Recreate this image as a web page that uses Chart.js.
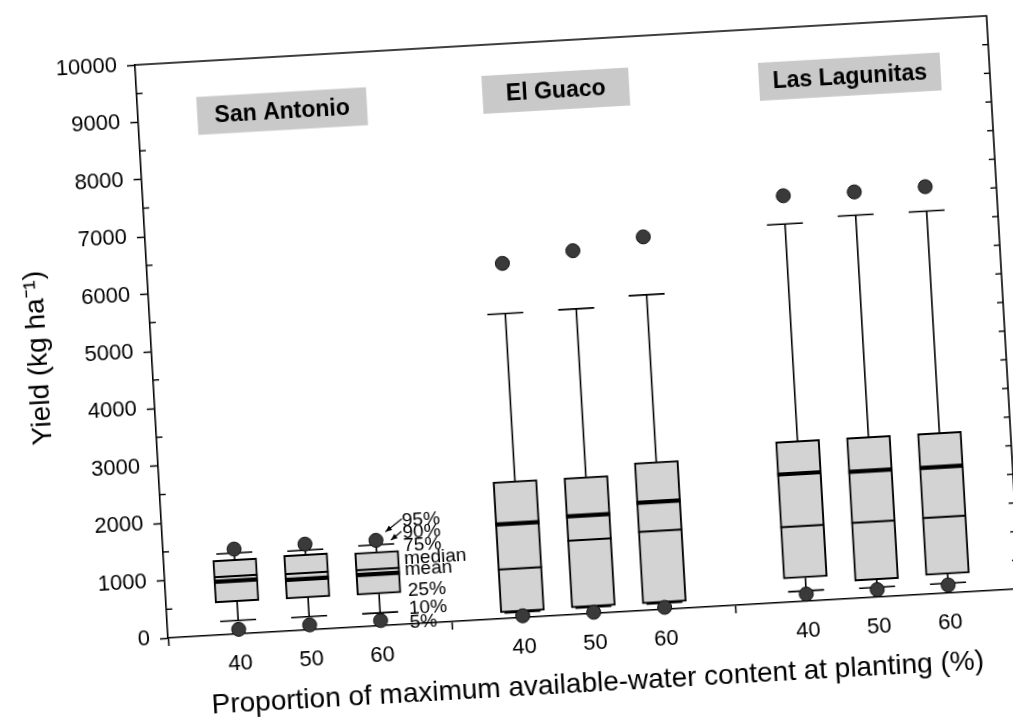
<!DOCTYPE html>
<html>
<head>
<meta charset="utf-8">
<script src="https://cdn.jsdelivr.net/npm/chart.js@4.4.1/dist/chart.umd.min.js"></script>
<style>
  html, body { margin: 0; padding: 0; background: #fff; overflow: hidden; width: 1013px; height: 725px; }
  #wrap { position: absolute; left: -40px; top: -20px; width: 1140px; height: 800px;
          transform: rotate(-3.3deg); transform-origin: 208px 658px; }
  canvas { display: block; }
</style>
</head>
<body>
<div id="wrap"><canvas id="c" width="1140" height="800"></canvas></div>
<script>
// Sites and water levels (boxes listed site by site, 40/50/60 within each site)
const sites = ['San Antonio', 'El Guaco', 'Las Lagunitas'];
const waterLevels = ['40', '50', '60'];

// Yield percentiles and means (kg/ha)
const p5     = [80, 85, 90, 30, 20, 35, 125, 130, 140];
const p10    = [235, 230, 225, 95, 110, 110, 180, 170, 170];
const p25    = [565, 560, 555, 105, 120, 120, 410, 300, 330];
const median = [1010, 995, 990, 860, 1290, 1370, 1310, 1315, 1330];
const mean   = [930, 890, 905, 1645, 1715, 1880, 2230, 2205, 2200];
const p75    = [1300, 1320, 1290, 2385, 2385, 2575, 2800, 2800, 2800];
const p90    = [1410, 1390, 1410, 5305, 5315, 5490, 6580, 6665, 6665];
const p95    = [1480, 1495, 1490, 6180, 6330, 6500, 7075, 7070, 7090];

// Key text beside the last San Antonio box
const keyText = ['95%', '90%', '75%', 'median', 'mean', '25%', '10%', '5%'];

// Label placement (axis units) and site box widths (px)
const keyAnchorY = [1800, 1590, 1364, 1139, 948, 577, 263, 20];
const siteAnchor = [{ x: 2.03, y: 9050 }, { x: 5.89, y: 9130 }, { x: 10.03, y: 9080 }];
const siteBoxWidth = [170, 147, 182];

const FONT = "'Liberation Sans', Arial, Helvetica, sans-serif";

// Each site takes four slots on the x axis: three boxes and a gap
const slotOf = i => Math.floor(i / 3) * 4 + (i % 3) + 1;

const boxData = p25.map((v, i) => ({ x: slotOf(i), y: [v, p75[i]] }));
const dotData = [];
p5.forEach((v, i) => {
  dotData.push({ x: slotOf(i), y: v });
  dotData.push({ x: slotOf(i), y: p95[i] });
});

const CAP_W = 36, BOX_W = 44;

const boxPlotExtras = {
  id: 'boxPlotExtras',
  beforeDatasetsDraw(chart) {
    const { ctx, scales: { x, y } } = chart;
    ctx.save();
    ctx.strokeStyle = '#000';
    ctx.lineWidth = 1.6;
    p25.forEach((v, i) => {
      const cx = x.getPixelForValue(slotOf(i));
      const segs = [[p75[i], p90[i]], [v, p10[i]]];
      segs.forEach(([a, b]) => {
        ctx.beginPath();
        ctx.moveTo(cx, y.getPixelForValue(a));
        ctx.lineTo(cx, y.getPixelForValue(b));
        ctx.stroke();
        const yb = y.getPixelForValue(b);
        ctx.beginPath();
        ctx.moveTo(cx - CAP_W / 2, yb);
        ctx.lineTo(cx + CAP_W / 2, yb);
        ctx.stroke();
      });
    });
    ctx.restore();
  },
  afterDatasetsDraw(chart) {
    const { ctx, chartArea: ca, scales: { x, y } } = chart;
    ctx.save();
    // median (thin) and mean (thick) lines
    ctx.strokeStyle = '#000';
    median.forEach((m, i) => {
      const cx = x.getPixelForValue(slotOf(i));
      ctx.lineWidth = 2;
      ctx.beginPath();
      ctx.moveTo(cx - BOX_W / 2, y.getPixelForValue(m));
      ctx.lineTo(cx + BOX_W / 2, y.getPixelForValue(m));
      ctx.stroke();
      ctx.lineWidth = 4.2;
      ctx.beginPath();
      ctx.moveTo(cx - BOX_W / 2, y.getPixelForValue(mean[i]));
      ctx.lineTo(cx + BOX_W / 2, y.getPixelForValue(mean[i]));
      ctx.stroke();
    });

    // frame: top and right edges
    ctx.lineWidth = 1.6;
    ctx.beginPath();
    ctx.moveTo(ca.left, ca.top);
    ctx.lineTo(ca.right, ca.top);
    ctx.lineTo(ca.right, ca.bottom);
    ctx.stroke();

    // inward minor ticks on the left axis, inward ticks on the right edge
    ctx.lineWidth = 1.4;
    y.ticks.forEach(t => {
      const py = y.getPixelForValue(t.value);
      if (t.value % 1000 !== 0) {
        ctx.beginPath();
        ctx.moveTo(ca.left, py);
        ctx.lineTo(ca.left + 6, py);
        ctx.stroke();
      }
      if (t.value > 0 && t.value < 10000) {
        ctx.beginPath();
        ctx.moveTo(ca.right, py);
        ctx.lineTo(ca.right - 6, py);
        ctx.stroke();
      }
    });

    // site name boxes
    ctx.font = `bold 23px ${FONT}`;
    ctx.textAlign = 'center';
    ctx.textBaseline = 'middle';
    sites.forEach((name, k) => {
      const px = x.getPixelForValue(siteAnchor[k].x);
      const py = y.getPixelForValue(siteAnchor[k].y);
      const w = siteBoxWidth[k];
      const h = 38;
      ctx.fillStyle = '#c9c9c9';
      ctx.fillRect(px - w / 2, py - h / 2, w, h);
      ctx.fillStyle = '#000';
      ctx.fillText(name, px, py + 1);
    });

    // key beside the last San Antonio box
    const kx = x.getPixelForValue(slotOf(2));
    ctx.font = `19px ${FONT}`;
    ctx.textAlign = 'left';
    ctx.fillStyle = '#000';
    keyText.forEach((t, k) => {
      ctx.fillText(t, kx + 27 + (k >= 5 ? 2 : 0), y.getPixelForValue(keyAnchorY[k]));
    });

    // arrows pointing at the 95% dot and the 90% cap
    const arrow = (x0, y0, x1, y1) => {
      ctx.lineWidth = 1.2;
      ctx.beginPath();
      ctx.moveTo(x0, y0);
      ctx.lineTo(x1, y1);
      ctx.stroke();
      const a = Math.atan2(y1 - y0, x1 - x0);
      ctx.beginPath();
      ctx.moveTo(x1, y1);
      ctx.lineTo(x1 - 7 * Math.cos(a - 0.4), y1 - 7 * Math.sin(a - 0.4));
      ctx.lineTo(x1 - 7 * Math.cos(a + 0.4), y1 - 7 * Math.sin(a + 0.4));
      ctx.closePath();
      ctx.fill();
    };
    const y95 = y.getPixelForValue(p95[2]);
    const y90 = y.getPixelForValue(p90[2]);
    arrow(kx + 27, y95 - 20, kx + 10, y95 - 8);
    arrow(kx + 26, y90 - 12, kx + 15, y90 - 4);
    ctx.restore();
  }
};

new Chart(document.getElementById('c'), {
  type: 'bar',
  data: {
    datasets: [
      {
        type: 'bar',
        data: boxData,
        backgroundColor: '#d3d3d3',
        borderColor: '#000',
        borderWidth: 2,
        borderSkipped: false,
        barThickness: BOX_W,
        order: 2
      },
      {
        type: 'scatter',
        data: dotData,
        pointRadius: 7,
        pointBackgroundColor: '#3a3a3a',
        pointBorderColor: '#111',
        pointBorderWidth: 1,
        clip: false,
        order: 1
      }
    ]
  },
  options: {
    responsive: false,
    animation: false,
    devicePixelRatio: 1,
    layout: { padding: { left: 68, right: 79, top: 84, bottom: 52 } },
    plugins: { legend: { display: false }, tooltip: { enabled: false } },
    scales: {
      x: {
        type: 'linear',
        min: 0,
        max: 12,
        offset: false,
        afterFit(s) { s.height = 90; s.paddingLeft = 0; s.paddingRight = 0; },
        afterBuildTicks(s) { s.ticks = Array.from({ length: 13 }, (_, i) => ({ value: i })); },
        ticks: {
          autoSkip: false,
          maxRotation: 0,
          padding: 9,
          color: '#000',
          font: { family: FONT, size: 22 },
          callback: v => (v % 4 === 0 ? '' : waterLevels[(v % 4) - 1])
        },
        grid: {
          offset: false,
          drawOnChartArea: false,
          drawTicks: true,
          tickLength: 8,
          tickWidth: 1.5,
          tickColor: c => (c.tick && c.tick.value % 4 === 0 ? '#000' : 'rgba(0,0,0,0)')
        },
        border: { display: true, color: '#000', width: 1.6 },
        title: {
          display: true,
          text: 'Proportion of maximum available-water content at planting (%)',
          color: '#000',
          font: { family: FONT, size: 28 },
          padding: { top: 0, bottom: 3 }
        }
      },
      y: {
        min: 0,
        max: 10000,
        afterFit(s) { s.width = 140; s.paddingTop = 0; s.paddingBottom = 0; },
        ticks: {
          stepSize: 500,
          autoSkip: false,
          padding: 10,
          color: '#000',
          font: { family: FONT, size: 22 },
          callback: v => (v % 1000 === 0 ? String(v) : '')
        },
        grid: {
          drawOnChartArea: false,
          drawTicks: true,
          tickLength: 8,
          tickWidth: 1.5,
          tickColor: c => (c.tick && c.tick.value % 1000 === 0 ? '#000' : 'rgba(0,0,0,0)')
        },
        border: { display: true, color: '#000', width: 1.6 },
        title: {
          display: true,
          text: 'Yield (kg ha\u207B\u00B9)',
          color: '#000',
          font: { family: FONT, size: 28 },
          padding: { top: 10, bottom: 0 }
        }
      }
    }
  },
  plugins: [boxPlotExtras]
});
</script>
</body>
</html>
